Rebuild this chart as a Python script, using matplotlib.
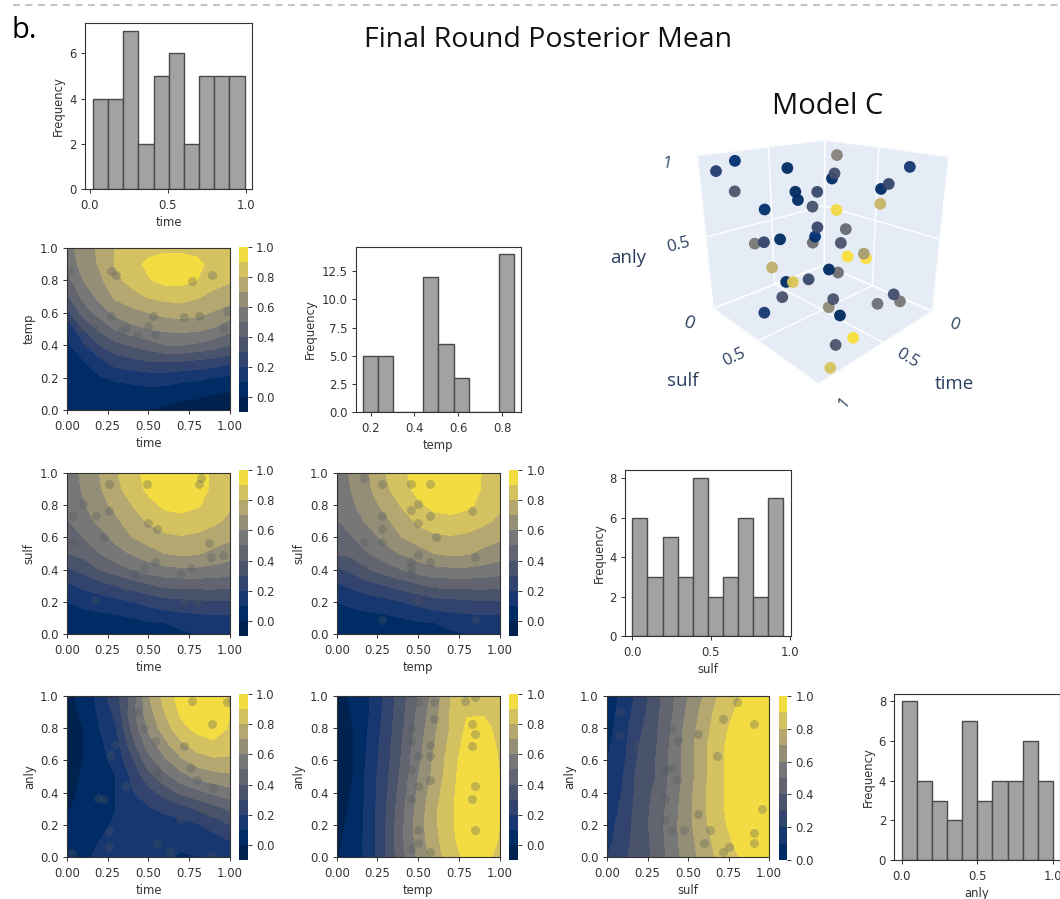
import numpy as np
import matplotlib
matplotlib.use("Agg")
import matplotlib.pyplot as plt
from matplotlib.lines import Line2D

W, H = 1060, 899

grid = [0.0, 0.1, 0.2, 0.3, 0.4, 0.5, 0.6, 0.7, 0.8, 0.9, 1.0]

# posterior mean, one list per x column
time_temp_z = [
    [.03, .04, .05, .06, .08, .10, .27, .38, .46, .53, .56],
    [.03, .04, .06, .09, .18, .30, .44, .53, .60, .64, .65],
    [.02, .04, .09, .17, .30, .42, .54, .63, .68, .71, .72],
    [.01, .04, .12, .25, .37, .51, .63, .72, .77, .81, .81],
    [.01, .04, .14, .27, .41, .57, .67, .76, .84, .87, .85],
    [.00, .06, .15, .30, .45, .60, .70, .81, .89, .92, .87],
    [-.02, .05, .15, .30, .50, .62, .73, .83, .93, .96, .87],
    [-.04, .03, .13, .30, .50, .63, .74, .84, .93, .96, .87],
    [-.05, .02, .12, .28, .48, .62, .73, .81, .90, .93, .86],
    [-.06, .00, .10, .26, .45, .59, .69, .77, .84, .86, .84],
    [-.07, -.01, .08, .23, .40, .53, .65, .75, .81, .83, .82],
]
time_sulf_z = [
    [.02, .06, .10, .18, .28, .40, .45, .49, .52, .54, .55],
    [.02, .06, .13, .22, .33, .43, .50, .56, .59, .61, .62],
    [.02, .07, .15, .26, .40, .50, .56, .62, .66, .69, .70],
    [.01, .08, .17, .30, .45, .56, .63, .68, .73, .77, .79],
    [.00, .10, .20, .34, .50, .61, .70, .75, .80, .85, .87],
    [.00, .13, .23, .38, .55, .65, .75, .81, .87, .92, .93],
    [.00, .14, .26, .42, .57, .70, .78, .85, .92, .96, .97],
    [.08, .16, .27, .43, .58, .72, .79, .87, .93, .97, .98],
    [.10, .17, .28, .43, .58, .71, .78, .85, .91, .94, .95],
    [.11, .18, .29, .43, .57, .67, .75, .82, .86, .88, .88],
    [.11, .18, .29, .42, .55, .64, .72, .78, .81, .83, .84],
]
temp_sulf_z = [
    [.02, .06, .10, .18, .28, .40, .45, .49, .52, .54, .55],
    [.02, .06, .13, .22, .33, .43, .50, .56, .59, .61, .62],
    [.02, .07, .15, .26, .40, .50, .56, .62, .66, .69, .70],
    [.01, .08, .17, .30, .45, .56, .63, .68, .73, .78, .80],
    [.00, .10, .20, .34, .50, .61, .70, .75, .81, .86, .88],
    [.00, .13, .23, .38, .55, .65, .75, .82, .88, .93, .94],
    [.00, .14, .26, .42, .57, .70, .78, .86, .93, .97, .98],
    [.08, .16, .27, .43, .58, .72, .79, .87, .94, .98, .99],
    [.10, .17, .28, .43, .58, .71, .78, .85, .92, .95, .96],
    [.11, .18, .29, .43, .57, .67, .75, .82, .87, .89, .89],
    [.11, .18, .29, .42, .55, .64, .72, .78, .82, .84, .85],
]
time_anly_z = [
    [.05, .03, .01, -.01, -.03, -.03, -.03, -.03, -.03, -.02, -.02],
    [.07, .06, .05, .03, .02, .01, .00, .00, .00, .01, .02],
    [.13, .10, .08, .07, .07, .07, .07, .08, .10, .12, .14],
    [.15, .15, .11, .10, .10, .10, .13, .15, .19, .23, .27],
    [.15, .16, .17, .18, .19, .22, .28, .36, .42, .46, .43],
    [.12, .14, .16, .19, .26, .36, .46, .55, .62, .66, .69],
    [.11, .13, .16, .22, .34, .47, .58, .67, .75, .80, .84],
    [.09, .12, .16, .26, .42, .56, .68, .78, .87, .92, .94],
    [.10, .13, .19, .31, .47, .63, .75, .85, .93, .97, .97],
    [.12, .16, .24, .36, .52, .66, .78, .88, .95, .98, .97],
    [.14, .20, .30, .42, .56, .68, .78, .85, .89, .90, .88],
]
temp_anly_z = [
    [-.01, -.02, -.03, -.05, -.06, -.07, -.07, -.07, -.06, -.05, -.05],
    [.05, .04, .03, .02, .01, .00, .00, .00, .00, .01, .02],
    [.13, .14, .14, .14, .14, .14, .13, .12, .11, .10, .10],
    [.30, .30, .30, .29, .28, .27, .26, .25, .24, .23, .22],
    [.47, .48, .48, .47, .45, .43, .41, .40, .38, .37, .36],
    [.62, .64, .65, .64, .62, .60, .58, .56, .54, .52, .50],
    [.75, .77, .78, .78, .76, .73, .72, .70, .68, .66, .64],
    [.85, .87, .88, .88, .87, .86, .85, .83, .81, .81, .80],
    [.93, .96, .98, .98, .98, .97, .96, .94, .92, .89, .86],
    [.93, .97, .99, 1.0, 1.0, .99, .98, .96, .93, .89, .87],
    [.87, .89, .90, .90, .90, .90, .89, .88, .87, .85, .83],
]
sulf_anly_z = [
    [.20, .17, .15, .13, .12, .11, .10, .08, .06, .04, .02],
    [.28, .26, .25, .23, .21, .20, .18, .17, .16, .15, .14],
    [.35, .35, .35, .35, .34, .34, .32, .30, .28, .25, .23],
    [.42, .43, .44, .43, .42, .40, .40, .39, .38, .37, .36],
    [.55, .56, .56, .55, .54, .53, .53, .52, .51, .49, .48],
    [.65, .66, .67, .67, .66, .65, .65, .65, .64, .62, .60],
    [.74, .76, .78, .79, .79, .78, .78, .78, .76, .74, .71],
    [.83, .85, .87, .88, .88, .88, .88, .88, .87, .85, .82],
    [.89, .92, .95, .96, .96, .96, .96, .95, .93, .91, .89],
    [.94, .97, .99, 1.0, .99, .99, .99, .98, .97, .95, .93],
    [.93, .96, .98, .98, .98, .98, .98, .97, .96, .95, .93],
]

# sampled points shown on each contour panel
time_temp_pts = [(.015, .855), (.27, .855), (.3, .835), (.77, .795), (.89, .835), (.27, .58), (.53, .58),
                 (.72, .575), (.81, .58), (.98, .61), (.96, .5), (.17, .505), (.36, .505), (.09, .505),
                 (.5, .52), (.54, .465), (.43, .465), (.33, .485)]
time_sulf_pts = [(.82, .97), (.81, .93), (.1, .81), (.18, .73), (.26, .765), (.035, .73), (.035, .57), (.23, .6),
                 (.5, .69), (.55, .65), (.87, .565), (.96, .49), (.885, .48), (.54, .445), (.47, .41), (.76, .41),
                 (.7, .37), (.42, .37), (.36, .285), (.72, .21), (.8, .2), (.17, .21), (.26, .93), (.49, .93)]
temp_sulf_pts = [(.165, .97), (.28, .93), (.455, .93), (.57, .93), (.5, .81), (.455, .77), (.28, .73), (.57, .73),
                 (.5, .69), (.28, .65), (.165, .57), (.28, .57), (.61, .605), (.83, .765), (.5, .49), (.455, .445),
                 (.57, .445), (.85, .48), (.165, .41), (.455, .41), (.16, .36), (.455, .37), (.5, .285), (.6, .285),
                 (.5, .21), (.28, .09), (.85, .09)]
time_anly_pts = [(.77, .97), (.98, .96), (.43, .9), (.89, .825), (.47, .8), (.54, .72), (.72, .69), (.295, .695),
                 (.27, .635), (.76, .555), (.55, .525), (.55, .49), (.8, .48), (.895, .43), (.36, .44), (.23, .36),
                 (.19, .365), (.83, .3), (.87, .27), (.695, .23), (.26, .16), (.26, .065), (.55, .09), (.63, .03),
                 (.89, .005), (.03, .025)]
temp_anly_pts = [(.5, .96), (.6, .96), (.785, .97), (.85, .995), (.6, .855), (.455, .8), (.83, .825), (.85, .765),
                 (.455, .72), (.57, .695), (.83, .69), (.57, .63), (.5, .63), (.455, .54), (.57, .48), (.5, .44),
                 (.85, .44), (.83, .36), (.455, .36), (.85, .165), (.5, .165), (.5, .09), (.455, .05), (.57, .03)]
sulf_anly_pts = [(.08, .9), (.8, .96), (.715, .855), (.91, .825), (.4, .795), (.56, .765), (.44, .72), (.08, .76),
                 (.19, .69), (.68, .63), (.4, .555), (.355, .54), (.43, .48), (.27, .44), (.355, .36), (.955, .3),
                 (.56, .27), (.355, .23), (.4, .165), (.475, .165), (.635, .165), (.91, .15), (.91, .09), (.19, .09),
                 (.6, .09), (.755, .06), (.715, .03)]

# histograms
time_edges = [.022, .119, .216, .313, .41, .507, .604, .701, .798, .895, .992]
time_counts = [4, 4, 7, 2, 5, 6, 2, 5, 5, 5]
temp_edges = [.165, .234, .303, .372, .441, .51, .579, .648, .717, .786, .855]
temp_counts = [5, 5, 0, 0, 12, 6, 3, 0, 0, 14]
sulf_edges = [.0, .096, .192, .288, .384, .48, .576, .672, .768, .864, .96]
sulf_counts = [6, 3, 5, 3, 8, 2, 3, 6, 2, 7]
anly_edges = [.0, .1, .2, .3, .4, .5, .6, .7, .8, .9, 1.0]
anly_counts = [8, 4, 3, 2, 7, 3, 4, 4, 6, 4]

# Model C scene
scene_time = [.93, .85, .64, .33, .45, .46, .15, .23, .26, .86, .61, .60, .52, .54, .74,
              .44, .26, .52, .40, .53, .54, .68, .75, .79, .42, .39, .32, .31, .72, .47,
              .43, .56, .66, .63, .68, .18, .15, .25, .45, .47, .81, .49, .61, .73, .89]
scene_sulf = [.07, .15, .36, .45, .55, .54, .85, .77, .74, .14, .39, .40, .48, .46, .26,
              .56, .74, .48, .60, .47, .46, .32, .25, .21, .58, .61, .68, .69, .28, .53,
              .57, .44, .34, .37, .32, .82, .85, .75, .55, .53, .30, .65, .87, .85, .97]
scene_anly = [.91, .97, .93, .98, .90, .87, .94, .84, .81, .79, .79, .74, .79, .70, .68,
              .68, .72, .57, .56, .51, .47, .49, .47, .46, .47, .38, .40, .37, .30, .29,
              .27, .22, .20, .20, .09, .12, .07, .05, .08, .02, .02, .02, .02, .02, .02]
scene_value = [.15, .08, .05, .55, .25, .05, .12, .2, .05, .3, .05, .05, .22, .27, .07,
               .98, .82, .22, .42, .08, .45, .05, .2, .5, .28, 1.0, .7, 1.0, .78, .05,
               .45, .22, .05, .9, .28, .25, .5, .45, .28, .6, .12, .04, 1.0, .3, .88]

# where each filled band sits on the colour map, lowest first
band_pos = [0.0, .055, .12, .19, .28, .38, .48, .6, .72, .84, .95]

FS = 8.4
scene_labels = [("1", 667, 164, -10, 12), ("0.5", 678, 245, 15, 12), ("0", 689, 323, -20, 13),
                ("0.5", 734, 357, 25, 12), ("1", 844, 403, 50, 12), ("0", 954, 325, -20, 12),
                ("0.5", 907, 358, -30, 12), ("anly", 628, 258, 0, 13.5), ("sulf", 683, 381, 0, 13.5),
                ("time", 954, 384, 0, 13.5)]


def px_axes(left, top, right, bottom, **kw):
    return fig.add_axes([left / W, 1 - bottom / H, (right - left) / W, (bottom - top) / H], **kw)


def style(ax):
    for s in ax.spines.values():
        s.set_linewidth(0.8)
        s.set_color("#333333")
    ax.tick_params(labelsize=FS, length=3, width=0.7, pad=3, colors="#333333")
    ax.tick_params(axis="x", pad=4)


def hist_panel(box, edges, counts, xlabel, xlim, ylim, xticks, yticks):
    ax = px_axes(*box)
    ax.bar(edges[:-1], counts, width=np.diff(edges), align="edge",
           color="#a2a2a2", edgecolor="#4a4a4a", linewidth=1.0)
    ax.set_xlim(*xlim)
    ax.set_ylim(*ylim)
    ax.set_xticks(xticks)
    ax.set_yticks(yticks)
    ax.set_xlabel(xlabel, fontsize=FS, labelpad=3, color="#333333")
    ax.set_ylabel("Frequency", fontsize=FS, labelpad=3, color="#333333")
    style(ax)
    return ax


def contour_panel(box, cbox, z, pts, xlabel, ylabel, levels):
    ax = px_axes(*box)
    colors = plt.cm.cividis(band_pos[-(len(levels) - 1):])
    cs = ax.contourf(grid, grid, np.array(z).T, levels=levels, colors=colors)
    ax.scatter(*zip(*pts), s=42, color="#50585c", alpha=0.3, linewidths=0, clip_on=True)
    ax.set_xlim(0, 1)
    ax.set_ylim(0, 1)
    ax.set_xticks([0, .25, .5, .75, 1])
    ax.set_xticklabels(["0.00", "0.25", "0.50", "0.75", "1.00"])
    ax.set_yticks([0, .2, .4, .6, .8, 1])
    ax.set_xlabel(xlabel, fontsize=FS, labelpad=3, color="#333333")
    ax.set_ylabel(ylabel, fontsize=FS, labelpad=3, color="#333333")
    style(ax)
    cax = px_axes(*cbox)
    cb = fig.colorbar(cs, cax=cax, alpha=0.7)
    cb.set_ticks([0, .2, .4, .6, .8, 1])
    cb.ax.tick_params(labelsize=FS, length=3, width=0.7, pad=3, colors="#333333")
    cb.outline.set_linewidth(0)
    return ax


fig = plt.figure(figsize=(W / 100, H / 100), dpi=100)

fig.add_artist(Line2D([13 / W, 1], [1 - 5 / H, 1 - 5 / H], color="#c4c4c4", lw=1.5, linestyle=(0, (3.3, 2.7))))
fig.text(12 / W, 1 - 31 / H, "b.", fontsize=21, family="Open Sans", va="center", color="black")
fig.text(548.5 / W, 1 - 40 / H, "Final Round Posterior Mean", fontsize=20.5, family="Open Sans",
         ha="center", va="center", color="#111111")
fig.text(828 / W, 1 - 107 / H, "Model C", fontsize=21, family="Open Sans", ha="center", va="center",
         color="#111111")

lv = np.arange(-0.1, 1.01, 0.1)
lv0 = np.arange(0.0, 1.01, 0.1)

hist_panel((85.2, 23, 251.9, 189), time_edges, time_counts, "time", (-.028, 1.039), (0, 7.35), [0, .5, 1], [0, 2, 4, 6])
hist_panel((355.6, 247, 520.6, 412), temp_edges, temp_counts, "temp", (.132, .885), (0, 14.65), [.2, .4, .6, .8],
           [0, 2.5, 5, 7.5, 10, 12.5])
hist_panel((625.3, 470, 791.3, 636), sulf_edges, sulf_counts, "sulf", (-.045, 1.011), (0, 8.42), [0, .5, 1], [0, 2, 4, 6, 8])
hist_panel((894.4, 694, 1059.5, 860), anly_edges, anly_counts, "anly", (-.05, 1.044), (0, 8.37), [0, .5, 1], [0, 2, 4, 6, 8])

contour_panel((66.9, 248, 229.9, 410), (239.3, 247, 247.8, 412), time_temp_z, time_temp_pts, "time", "temp", lv)
contour_panel((66.9, 473, 229.9, 634), (239.3, 470, 247.8, 636), time_sulf_z, time_sulf_pts, "time", "sulf", lv)
contour_panel((336.7, 473, 499.7, 634), (508.8, 470, 517.9, 636), temp_sulf_z, temp_sulf_pts, "temp", "sulf", lv)
contour_panel((66.9, 696, 229.9, 857), (239.3, 694, 247.8, 860), time_anly_z, time_anly_pts, "time", "anly", lv)
contour_panel((336.7, 696, 499.7, 857), (508.8, 694, 517.9, 860), temp_anly_z, temp_anly_pts, "temp", "anly", lv)
contour_panel((607.1, 696, 769, 857), (778.5, 696, 786.9, 860), sulf_anly_z, sulf_anly_pts, "sulf", "anly", lv0)

# 3d scene, camera fitted to the cube corners
ax3 = px_axes(617.8, 82.5, 1017.8, 402.5, projection="3d")
ax3.patch.set_alpha(0)
ax3.set_proj_type("persp", focal_length=0.241)
ax3.view_init(elev=20.412, azim=46.455)
ax3.set_xlim(0, 1)
ax3.set_ylim(0, 1)
ax3.set_zlim(0, 1)
ax3.set_box_aspect((1, 1, 0.986), zoom=0.867)
for a in (ax3.xaxis, ax3.yaxis, ax3.zaxis):
    a.set_pane_color("#e5ecf6")
    a.pane.set_edgecolor("#e5ecf6")
    a.line.set_color((1, 1, 1, 0))
    a._axinfo["grid"]["color"] = "white"
    a._axinfo["grid"]["linewidth"] = 1.0
    a._axinfo["tick"]["inward_factor"] = 0
    a._axinfo["tick"]["outward_factor"] = 0
    a.set_ticks([0, .5, 1])
    a.set_ticklabels([])
ax3.scatter(scene_time, scene_sulf, scene_anly, c=scene_value, cmap="cividis", vmin=0, vmax=1.03, s=72,
            alpha=0.95, linewidths=0, depthshade=False, clip_on=False)

for txt, x, y, rot, size in scene_labels:
    fig.text(x / W, 1 - y / H, txt, fontsize=size, family="Open Sans", ha="center", va="center", rotation=rot,
             color="#2a3f5f")

fig.savefig("out.png", dpi=100)
